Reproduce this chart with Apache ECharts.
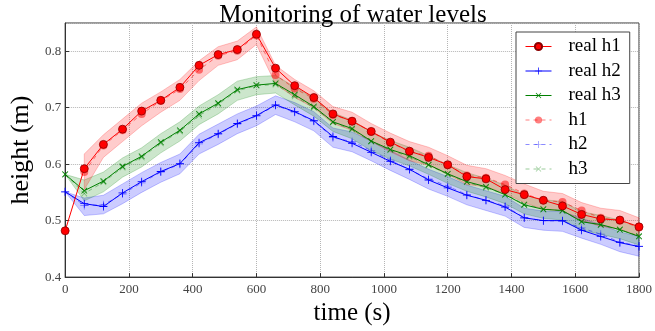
<!DOCTYPE html>
<html lang="en">
<head>
<meta charset="UTF-8">
<title>Monitoring of water levels</title>
<script src="https://cdn.jsdelivr.net/npm/echarts@6/dist/echarts.min.js"></script>
<style>
    * { margin: 0; padding: 0; }
    body { background: #fff; }
    #box1 { width: 655px; height: 331px; }
</style>
</head>
<body>
<div id="box1"></div>
<script>
// time axis (s), one sample each 60 s
var times = [0, 60, 120, 180, 240, 300, 360, 420, 480, 540, 600, 660, 720, 780, 840, 900,
    960, 1020, 1080, 1140, 1200, 1260, 1320, 1380, 1440, 1500, 1560, 1620, 1680, 1740, 1800];
var xTicks = [0, 1800, 200];
var yTicks = [0.4, 0.85, 0.1];

// measured levels
var realH1 = [0.482, 0.592, 0.635, 0.662, 0.694, 0.713, 0.736, 0.775, 0.794, 0.803, 0.830, 0.770, 0.739, 0.718, 0.689, 0.676,
    0.658, 0.639, 0.623, 0.612, 0.599, 0.578, 0.574, 0.555, 0.546, 0.536, 0.526, 0.511, 0.503, 0.501, 0.489];
var realH2 = [0.551, 0.530, 0.525, 0.549, 0.569, 0.587, 0.601, 0.638, 0.654, 0.672, 0.686, 0.705, 0.693, 0.677, 0.649, 0.637,
    0.621, 0.605, 0.591, 0.572, 0.558, 0.545, 0.536, 0.524, 0.505, 0.500, 0.500, 0.483, 0.472, 0.461, 0.454];
var realH3 = [0.582, 0.553, 0.570, 0.596, 0.614, 0.639, 0.660, 0.689, 0.708, 0.732, 0.740, 0.743, 0.723, 0.702, 0.675, 0.663,
    0.641, 0.626, 0.615, 0.599, 0.583, 0.569, 0.560, 0.546, 0.528, 0.520, 0.518, 0.498, 0.493, 0.484, 0.472];

// estimated levels
var estH1 = [null, 0.586, 0.633, 0.660, 0.689, 0.712, 0.733, 0.767, 0.792, 0.801, 0.828, 0.758, 0.734, 0.716, 0.687, 0.677,
    0.657, 0.638, 0.622, 0.615, 0.598, 0.580, 0.576, 0.564, 0.548, 0.536, 0.533, 0.518, 0.505, 0.500, 0.488];
var estH2 = [0.551, 0.527, 0.528, 0.547, 0.567, 0.586, 0.600, 0.636, 0.653, 0.671, 0.685, 0.704, 0.692, 0.676, 0.647, 0.640,
    0.624, 0.607, 0.590, 0.574, 0.561, 0.546, 0.536, 0.526, 0.505, 0.500, 0.499, 0.487, 0.476, 0.462, 0.455];
var estH3 = [0.582, 0.548, 0.568, 0.594, 0.612, 0.637, 0.658, 0.686, 0.706, 0.730, 0.739, 0.741, 0.720, 0.700, 0.674, 0.661,
    0.640, 0.625, 0.613, 0.598, 0.582, 0.568, 0.558, 0.547, 0.529, 0.521, 0.517, 0.499, 0.492, 0.484, 0.473];

// uncertainty bands
var lowH1 = [null, 0.555, 0.612, 0.640, 0.668, 0.692, 0.713, 0.748, 0.775, 0.785, 0.812, 0.742, 0.718, 0.700, 0.672, 0.660,
    0.640, 0.622, 0.606, 0.598, 0.582, 0.564, 0.560, 0.548, 0.532, 0.520, 0.517, 0.500, 0.490, 0.485, 0.472];
var highH1 = [null, 0.618, 0.652, 0.680, 0.708, 0.728, 0.750, 0.783, 0.808, 0.818, 0.843, 0.775, 0.750, 0.730, 0.702, 0.692,
    0.672, 0.655, 0.640, 0.630, 0.615, 0.598, 0.592, 0.580, 0.565, 0.552, 0.548, 0.532, 0.522, 0.518, 0.505];
var lowH2 = [0.551, 0.509, 0.512, 0.530, 0.550, 0.568, 0.583, 0.618, 0.635, 0.654, 0.668, 0.688, 0.675, 0.659, 0.630, 0.622,
    0.606, 0.589, 0.573, 0.556, 0.543, 0.528, 0.518, 0.508, 0.488, 0.483, 0.481, 0.469, 0.458, 0.445, 0.437];
var highH2 = [0.551, 0.540, 0.545, 0.565, 0.585, 0.603, 0.618, 0.653, 0.671, 0.689, 0.703, 0.721, 0.709, 0.693, 0.664, 0.657,
    0.641, 0.624, 0.607, 0.591, 0.578, 0.563, 0.553, 0.543, 0.522, 0.517, 0.516, 0.504, 0.493, 0.480, 0.472];
var lowH3 = [0.582, 0.535, 0.551, 0.577, 0.595, 0.620, 0.641, 0.670, 0.689, 0.713, 0.723, 0.726, 0.705, 0.685, 0.658, 0.645,
    0.624, 0.609, 0.597, 0.582, 0.566, 0.552, 0.542, 0.530, 0.512, 0.504, 0.501, 0.483, 0.476, 0.468, 0.457];
var highH3 = [0.582, 0.572, 0.586, 0.611, 0.629, 0.654, 0.675, 0.703, 0.723, 0.747, 0.755, 0.757, 0.737, 0.717, 0.691, 0.678,
    0.657, 0.642, 0.630, 0.615, 0.599, 0.585, 0.575, 0.563, 0.545, 0.537, 0.534, 0.516, 0.509, 0.501, 0.490];

var serif = 'Liberation Serif';
var plusPath = 'path://M4.5,0h1v4.5h4.5v1h-4.5v4.5h-1v-4.5h-4.5v-1h4.5z';

function pairs(vals) {
    return times.map(function (t, i) { return [t, vals[i]]; });
}

// filled band drawn as one polygon through the axes
function band(name, low, high, fill, edge) {
    return {
        name: name,
        type: 'custom',
        silent: true,
        z: 1,
        data: [[0, 0]],
        renderItem: function (params, api) {
            var top = [], bottom = [];
            for (var i = 0; i < times.length; i++) {
                if (low[i] == null) continue;
                top.push(api.coord([times[i], high[i]]));
                bottom.unshift(api.coord([times[i], low[i]]));
            }
            return {
                type: 'polygon',
                shape: { points: top.concat(bottom) },
                style: { fill: fill, stroke: edge, lineWidth: 1 }
            };
        }
    };
}

function line(name, vals, color, opts) {
    return Object.assign({
        name: name,
        type: 'line',
        data: pairs(vals),
        z: 3,
        connectNulls: false,
        lineStyle: { color: color, width: 1 },
        itemStyle: { color: color }
    }, opts);
}

var option = {
    backgroundColor: '#fff',
    animation: false,
    textStyle: { fontFamily: serif },
    title: {
        text: 'Monitoring of water levels',
        left: 348,
        top: -2,
        textAlign: 'center',
        textStyle: { fontFamily: serif, fontSize: 25, fontWeight: 'normal', color: '#000' }
    },
    legend: {
        data: ['real h1', 'real h2', 'real h3', 'h1', 'h2', 'h3'],
        orient: 'vertical',
        left: 516,
        top: 32,
        padding: [5, 9, 5, 9],
        itemGap: 5.5,
        itemWidth: 26,
        itemHeight: 9,
        backgroundColor: '#fff',
        borderColor: '#444',
        borderWidth: 1,
        borderRadius: 0,
        lineStyle: { width: 1 },
        formatter: '{t|{name}}',
        textStyle: {
            fontFamily: serif, fontSize: 19, color: '#000',
            rich: { t: { fontFamily: serif, fontSize: 19, color: '#000', padding: [0, 0, 0, 12] } }
        }
    },
    grid: {
        left: 54, right: 13, top: 23, bottom: 46,
        show: true, borderColor: '#333', borderWidth: 1
    },
    xAxis: {
        type: 'value',
        min: xTicks[0], max: xTicks[1], interval: xTicks[2],
        name: 'time (s)',
        nameLocation: 'middle',
        nameGap: 19,
        nameTextStyle: { fontFamily: serif, fontSize: 25, color: '#000' },
        axisLine: { lineStyle: { color: '#333' } },
        axisTick: { inside: true, length: 4, lineStyle: { color: '#333' } },
        axisLabel: {
            fontFamily: serif, fontSize: 13, color: '#444', margin: 6,
            formatter: function (v) { return String(v); }
        },
        splitLine: { show: true, lineStyle: { color: '#b5b5b5', type: 'dotted' } }
    },
    yAxis: {
        type: 'value',
        min: yTicks[0], max: yTicks[1], interval: yTicks[2],
        name: 'height (m)',
        nameLocation: 'middle',
        nameGap: 26,
        nameTextStyle: { fontFamily: serif, fontSize: 26, color: '#000' },
        axisLine: { show: true, lineStyle: { color: '#333' } },
        axisTick: { show: true, inside: true, length: 4, lineStyle: { color: '#333' } },
        axisLabel: {
            fontFamily: serif, fontSize: 13, color: '#444', margin: 4, showMaxLabel: false,
            formatter: function (v) { return v.toFixed(1); }
        },
        splitLine: { show: true, lineStyle: { color: '#b5b5b5', type: 'dotted' } }
    },
    series: [
        band('band h2', lowH2, highH2, 'rgba(0,0,255,0.2)', 'rgba(0,0,255,0.22)'),
        band('band h3', lowH3, highH3, 'rgba(0,128,0,0.2)', 'rgba(0,128,0,0.22)'),
        band('band h1', lowH1, highH1, 'rgba(255,0,0,0.2)', 'rgba(255,0,0,0.22)'),
        line('h1', estH1, 'rgba(255,0,0,0.5)', {
            symbol: 'circle', symbolSize: 8,
            lineStyle: { color: 'rgba(255,0,0,0.5)', width: 1, type: [4, 4] }
        }),
        line('h2', estH2, 'rgba(0,0,255,0.45)', {
            symbol: plusPath, symbolSize: 8,
            lineStyle: { color: 'rgba(0,0,255,0.45)', width: 1, type: [4, 4] }
        }),
        line('h3', estH3, 'rgba(0,128,0,0.4)', {
            symbol: plusPath, symbolSize: 8, symbolRotate: 45,
            lineStyle: { color: 'rgba(0,128,0,0.4)', width: 1, type: [4, 4] }
        }),
        line('real h2', realH2, '#0000ff', { symbol: plusPath, symbolSize: 8 }),
        line('real h3', realH3, '#008000', { symbol: plusPath, symbolSize: 8, symbolRotate: 45 }),
        line('real h1', realH1, '#ff0000', {
            symbol: 'circle', symbolSize: 8,
            itemStyle: { color: '#ff0000', borderColor: '#8b0000', borderWidth: 0.8 }
        })
    ]
};

echarts.init(document.querySelector('#box1')).setOption(option);
</script>
</body>
</html>
